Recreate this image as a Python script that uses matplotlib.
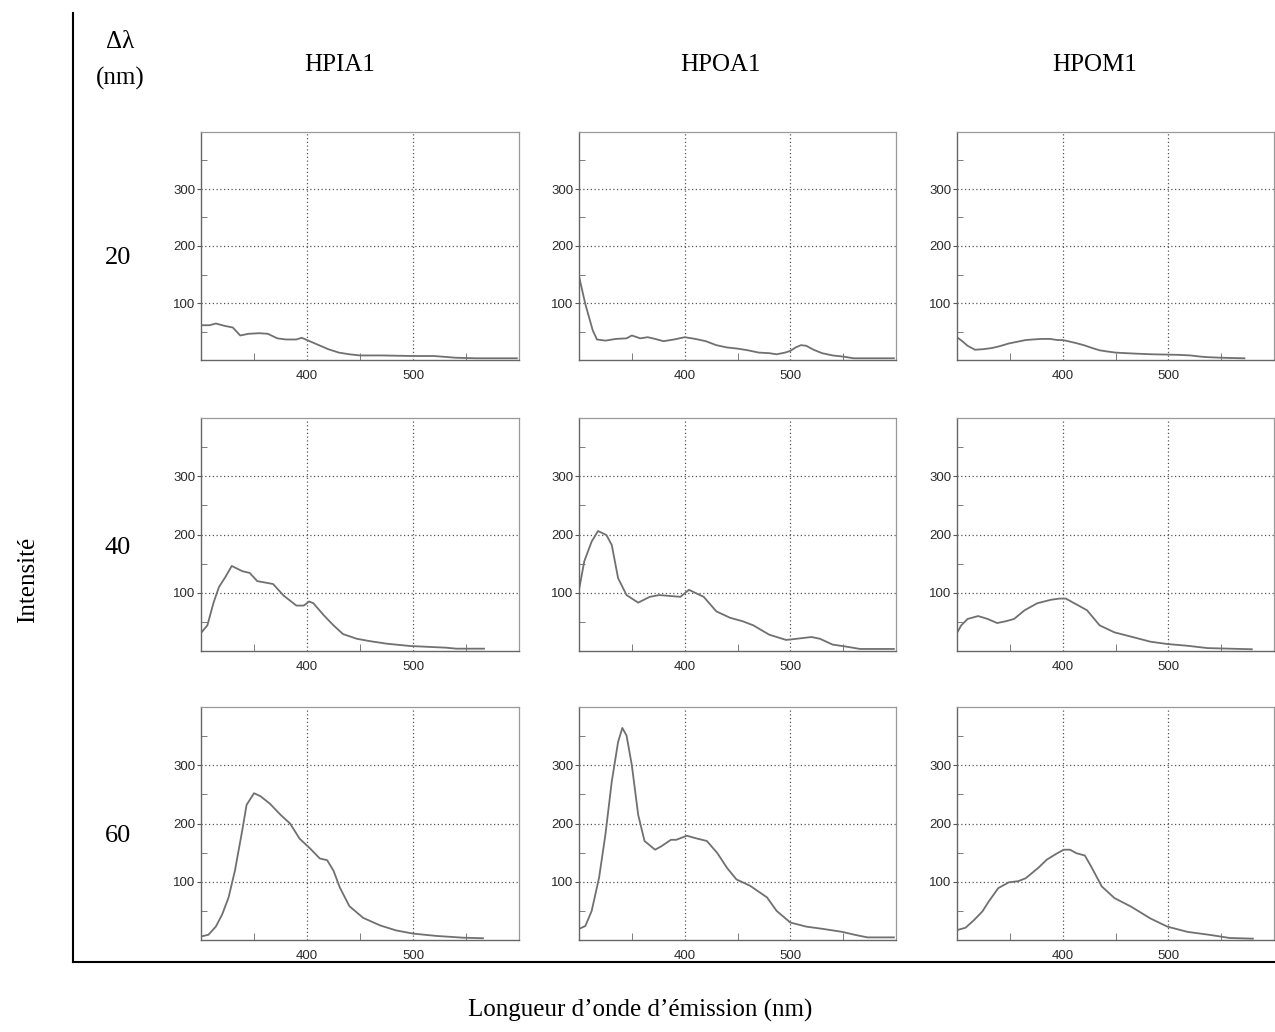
import matplotlib
matplotlib.use("Agg")
import matplotlib.pyplot as plt
from matplotlib.lines import Line2D

# emission spectra (wavelength nm, intensity)
hpia1_20_wl = [300, 308, 314, 322, 330, 337, 345, 355, 363, 372, 380, 390, 395, 400, 410, 420, 430, 440, 450, 470, 500, 520, 540, 560, 598]
hpia1_20_int = [61, 61, 64, 60, 57, 43, 46, 47, 46, 38, 36, 36, 39, 35, 27, 19, 13, 10, 8, 8, 7, 7, 4, 3, 3]

hpoa1_20_wl = [300, 306, 313, 317, 325, 335, 345, 350, 358, 365, 372, 380, 390, 400, 410, 420, 430, 440, 450, 460, 470, 480, 487, 495, 500, 505, 510, 515, 522, 530, 540, 550, 560, 598]
hpoa1_20_int = [147, 98, 52, 36, 34, 37, 38, 43, 38, 40, 37, 33, 36, 40, 37, 33, 26, 22, 20, 17, 13, 12, 10, 13, 16, 22, 26, 25, 18, 12, 8, 6, 3, 3]

hpom1_20_wl = [300, 305, 310, 317, 325, 333, 340, 349, 357, 365, 372, 380, 388, 395, 400, 405, 412, 420, 428, 435, 442, 450, 460, 471, 485, 499, 510, 521, 530, 537, 550, 560, 572]
hpom1_20_int = [40, 33, 25, 18, 19, 21, 24, 29, 32, 35, 36, 37, 37, 35, 35, 33, 30, 26, 21, 17, 15, 13, 12, 11, 10, 9.5, 9, 8, 6, 5, 4, 3.5, 3]

hpia1_40_wl = [300, 306, 312, 317, 323, 329, 339, 346, 353, 362, 368, 378, 390, 397, 402, 406, 416, 425, 434, 447, 459, 475, 497, 531, 541, 567]
hpia1_40_int = [31, 44, 84, 110, 127, 146, 137, 134, 120, 117, 115, 95, 78, 78, 85, 82, 61, 44, 29, 21, 17, 12.6, 8.6, 5.7, 4, 4]

hpoa1_40_wl = [300, 305, 312, 318, 326, 331, 337, 345, 356, 367, 376, 396, 404, 418, 430, 443, 455, 465, 480, 496, 506, 520, 528, 540, 553, 566, 598]
hpoa1_40_int = [105, 154, 188, 206, 199, 182, 125, 96, 83, 93, 96, 93, 105, 93, 68, 57, 51, 44, 28, 19, 21, 24, 21, 11, 7.5, 3.5, 3.5]

hpom1_40_wl = [300, 304, 310, 320, 329, 338, 346, 354, 364, 376, 389, 397, 403, 411, 423, 435, 449, 464, 483, 499, 518, 537, 579]
hpom1_40_int = [31, 44, 55, 60, 55, 48, 51, 55, 70, 82, 88, 90, 90, 82, 70, 44, 32, 25, 16, 12, 9, 5, 3]

hpia1_60_wl = [300, 307, 314, 320, 326, 332, 339, 343, 350, 356, 365, 375, 384, 393, 403, 412, 419, 425, 431, 440, 453, 469, 484, 500, 522, 547, 566]
hpia1_60_int = [6, 9, 23, 44, 73, 119, 189, 232, 252, 247, 234, 215, 200, 174, 157, 140, 137, 119, 90, 58, 38, 25, 16.5, 11, 7, 4, 3]

hpoa1_60_wl = [300, 306, 312, 319, 325, 331, 337, 341, 345, 350, 356, 362, 372, 378, 387, 392, 402, 412, 421, 431, 440, 449, 462, 478, 487, 500, 515, 531, 549, 562, 573, 598]
hpoa1_60_int = [19, 24, 50, 107, 181, 272, 340, 364, 351, 300, 215, 170, 155, 161, 172, 172, 179, 174, 170, 149, 124, 104, 93, 73, 50, 30, 23, 19, 14, 8.5, 4.5, 4.5]

hpom1_60_wl = [300, 308, 316, 324, 330, 339, 349, 358, 365, 377, 385, 394, 401, 407, 413, 421, 427, 437, 449, 465, 483, 499, 518, 540, 558, 580]
hpom1_60_int = [17, 21, 34, 49, 66, 89, 99, 101, 106, 124, 138, 148, 155, 155, 149, 145, 126, 92, 72, 57, 37, 23, 14, 8.6, 3.5, 2.3]

samples = ["HPIA1", "HPOA1", "HPOM1"]
deltas = ["20", "40", "60"]

spectra = [
    [(hpia1_20_wl, hpia1_20_int), (hpoa1_20_wl, hpoa1_20_int), (hpom1_20_wl, hpom1_20_int)],
    [(hpia1_40_wl, hpia1_40_int), (hpoa1_40_wl, hpoa1_40_int), (hpom1_40_wl, hpom1_40_int)],
    [(hpia1_60_wl, hpia1_60_int), (hpoa1_60_wl, hpoa1_60_int), (hpom1_60_wl, hpom1_60_int)],
]

W, H = 1275, 1032
fig = plt.figure(figsize=(W / 100, H / 100), dpi=100)

SERIF = "Liberation Serif"
SANS = "Liberation Sans"

# panel boxes in pixels
col_left = [201, 579, 957]
col_right = [519, 896, 1274]
row_top = [132, 418, 707]
row_bot = [360, 651, 940]

for r in range(3):
    for c in range(3):
        l, rr = col_left[c], col_right[c]
        t, b = row_top[r], row_bot[r]
        ax = fig.add_axes([l / W, 1 - b / H, (rr - l) / W, (b - t) / H])
        wl, val = spectra[r][c]
        ax.plot(wl, val, color="#707070", lw=1.3, solid_joinstyle="round")
        ax.set_xlim(300, 600)
        ax.set_ylim(0, 400)
        ax.set_xticks([400, 500])
        ax.set_xticks([350, 450, 550], minor=True)
        ax.set_yticks([100, 200, 300])
        ax.set_yticks([50, 150, 250, 350], minor=True)
        ax.grid(True, which="major", linestyle=(0, (1, 2)), color="#555555", lw=0.9)
        ax.tick_params(axis="x", which="major", length=0, pad=7, labelsize=9.5, labelcolor="#2a2a2a")
        ax.tick_params(axis="x", which="minor", direction="in", length=5, color="#666666")
        ax.tick_params(axis="y", which="major", direction="out", length=3, pad=1, labelsize=9.5,
                       labelcolor="#2a2a2a", color="#555555")
        ax.tick_params(axis="y", which="minor", direction="in", length=4, color="#666666")
        for lab in ax.get_xticklabels() + ax.get_yticklabels():
            lab.set_fontfamily(SANS)
        for side in ["left", "bottom"]:
            ax.spines[side].set_color("#666666")
            ax.spines[side].set_linewidth(1.0)
        for side in ["top", "right"]:
            ax.spines[side].set_color("#999999")
            ax.spines[side].set_linewidth(0.9)

# outer frame (left and bottom rules)
fig.add_artist(Line2D([73 / W, 73 / W], [1 - 13 / H, 1 - 962 / H], transform=fig.transFigure,
                      color="black", lw=1.5))
fig.add_artist(Line2D([73 / W, 1.0], [1 - 962 / H, 1 - 962 / H], transform=fig.transFigure,
                      color="black", lw=1.5))

fig.text(120 / W, 1 - 42 / H, "Δλ", ha="center", va="center", fontsize=18, family=SERIF)
fig.text(120 / W, 1 - 78 / H, "(nm)", ha="center", va="center", fontsize=18, family=SERIF)

for name, xc in zip(samples, [340, 720, 1095]):
    fig.text(xc / W, 1 - 65 / H, name, ha="center", va="center", fontsize=18, family=SERIF)

for d, yc in zip(deltas, [258, 548, 836]):
    fig.text(118 / W, 1 - yc / H, d, ha="center", va="center", fontsize=19, family=SERIF)

fig.text(28 / W, 1 - 580 / H, "Intensité", rotation=90, ha="center", va="center", fontsize=18, family=SERIF)
fig.text(640 / W, 1 - 1010 / H, "Longueur d’onde d’émission (nm)", ha="center", va="center",
         fontsize=18, family=SERIF)

fig.savefig("out.png", dpi=100)
